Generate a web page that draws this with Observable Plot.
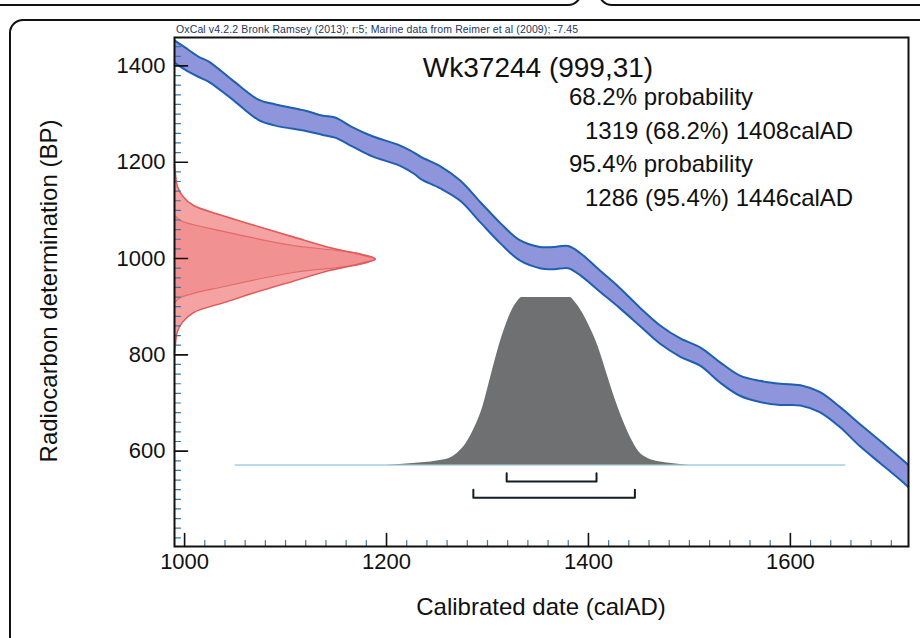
<!DOCTYPE html>
<html><head><meta charset="utf-8">
<script src="https://cdn.jsdelivr.net/npm/d3@7"></script>
<script src="https://cdn.jsdelivr.net/npm/@observablehq/plot@0.6"></script>
<style>
body{margin:0;background:#fff;}
#wrap{position:relative;width:920px;height:638px;overflow:hidden;font-family:"Liberation Sans",Arial,Helvetica,sans-serif;background:#fff;}
.panel{position:absolute;border:2px solid #111;border-radius:14px;box-sizing:border-box;}
#chart{position:absolute;left:0;top:0;z-index:2;}
</style></head><body>
<div id="wrap">
<div class="panel" style="left:-30px;top:-40px;width:612px;height:46px"></div>
<div class="panel" style="left:598px;top:-40px;width:400px;height:46px"></div>
<div class="panel" style="left:9px;top:19px;width:960px;height:700px"></div>
<div id="chart"></div>
</div>
<script>
// ---- text ----
const headerText = "OxCal v4.2.2 Bronk Ramsey (2013); r:5; Marine data from Reimer et al (2009); -7.45";
const sampleName = "Wk37244";
const c14Age = 999;
const c14Err = 31;
const xTitle = "Calibrated date (calAD)";
const yTitle = "Radiocarbon determination (BP)";

// ---- calibration curve (Marine09), calAD vs BP ----
const curveYear = [990,1000,1014,1024,1047,1073,1090,1120,1136,1149,1166,1186,1213,1228,1234,1253,1273,1293,1313,1332,1352,1366,1380,1392,1412,1431,1451,1471,1491,1511,1530,1550,1570,1590,1610,1629,1649,1669,1689,1709,1717];
const curveBP   = [1430,1416,1398,1388,1351,1309,1298,1286,1277,1272,1253,1233,1214,1197,1188,1169,1141,1096,1052,1017,1002,1001,1003,988,952,918,879,842,815,796,764,736,724,718,716,702,671,633,598,563,548];
const curveErr  = [23,23,21,21,20,21,22,21,20,21,20,21,21,22,23,23,21,21,21,21,22,23,23,23,22,21,19,19,19,19,21,21,22,22,21,21,21,23,23,23,23];

// ---- radiocarbon measurement distribution (BP, relative density) ----
const c14BP   = [1195,1170,1150,1130,1110,1088,1066,1045,1024,1008,999,990,974,953,932,909,888,868,848,828,805];
const c14Dens = [0,0.006,0.014,0.04,0.095,0.25,0.42,0.59,0.76,0.93,1,0.93,0.76,0.59,0.42,0.25,0.095,0.04,0.014,0.006,0];
const c14InnerBP   = [1090,1079,1055,1027,1010,999,988,971,943,919,908];
const c14InnerDens = [0,0.03,0.26,0.59,0.925,1,0.925,0.59,0.26,0.03,0];

// ---- calibrated distribution (calAD, relative probability) ----
const calYear = [1200,1226,1250,1262,1270,1279,1287,1295,1303,1311,1318,1324,1329,1334,1358,1382,1387,1393,1400,1410,1418,1426,1434,1442,1450,1459,1470,1482,1500];
const calProb = [0,0.01,0.025,0.04,0.07,0.13,0.22,0.34,0.52,0.70,0.83,0.92,0.97,1,1,1,0.97,0.92,0.84,0.70,0.55,0.40,0.27,0.16,0.08,0.04,0.02,0.01,0];
const calSpan = [1050, 1655];

// ---- HPD ranges ----
const hpdLevel = ["68.2%", "95.4%"];
const hpdFrom  = [1319, 1286];
const hpdTo    = [1408, 1446];

// ---- ticks ----
const xTicks = [1000, 1200, 1400, 1600];
const yTicks = [600, 800, 1000, 1200, 1400];
const xMinor = d3.range(1000, 1720, 20).filter(v => !xTicks.includes(v));
const yMinor = d3.range(420, 1460, 20).filter(v => !yTicks.includes(v));

// ---- layout constants ----
const xDomain = [990, 1717];
const yDomain = [402, 1459];
const c14Width = 199;     // years of x for full density
const calBase = 571;      // BP of baseline of calibrated distribution
const calHeight = 348;    // BP height for full probability
const bracketY0 = 537, bracketStep = 34, bracketTick = 17;

const curve = curveYear.map((x, i) => ({x, y: curveBP[i], lo: curveBP[i] - curveErr[i], hi: curveBP[i] + curveErr[i]}));
const c14 = c14BP.map((y, i) => ({y, x: xDomain[0] + c14Dens[i] * c14Width}));
const c14In = c14InnerBP.map((y, i) => ({y, x: xDomain[0] + c14InnerDens[i] * c14Width}));
const cal = calYear.map((x, i) => ({x, y: calBase + calProb[i] * calHeight}));
const brackets = hpdLevel.flatMap((lev, i) => {
  const b = bracketY0 - i * bracketStep;
  return [
    {lev, x: hpdFrom[i], y: b + bracketTick},
    {lev, x: hpdFrom[i], y: b},
    {lev, x: hpdTo[i], y: b},
    {lev, x: hpdTo[i], y: b + bracketTick}
  ];
});

const font = "Liberation Sans, Arial, Helvetica, sans-serif";
const tickShape = {draw(context, l) { context.moveTo(0, 0); context.lineTo(0, -l); }};
const fmt = d3.format("d");

const plot = Plot.plot({
  width: 920, height: 638,
  marginLeft: 174, marginRight: 12, marginTop: 37, marginBottom: 92,
  style: {background: "transparent", fontFamily: font, fontSize: "22px", color: "#111"},
  x: {domain: xDomain},
  y: {domain: yDomain},
  marks: [
    // radiocarbon measurement
    Plot.areaX(c14, {y: "y", x1: xDomain[0], x2: "x", fill: "#f4a2a2", curve: "catmull-rom"}),
    Plot.areaX(c14In, {y: "y", x1: xDomain[0], x2: "x", fill: "#ee8585", fillOpacity: 0.6, curve: "catmull-rom"}),
    Plot.line(c14In, {x: "x", y: "y", stroke: "#e46a6a", strokeWidth: 1.2, curve: "catmull-rom"}),
    Plot.line(c14, {x: "x", y: "y", stroke: "#e85858", strokeWidth: 1.6, curve: "catmull-rom"}),
    // calibrated distribution
    Plot.ruleY([calBase], {x1: calSpan[0], x2: calSpan[1], stroke: "#a3cfe2", strokeWidth: 1.5}),
    Plot.areaY(cal, {x: "x", y1: calBase, y2: "y", fill: "#6f7072", curve: "monotone-x"}),
    // calibration curve band
    Plot.areaY(curve, {x: "x", y1: "lo", y2: "hi", fill: "#8e95da", curve: "catmull-rom", clip: true}),
    Plot.line(curve, {x: "x", y: "hi", stroke: "#1e5fb2", strokeWidth: 2, curve: "catmull-rom", clip: true}),
    Plot.line(curve, {x: "x", y: "lo", stroke: "#1e5fb2", strokeWidth: 2, curve: "catmull-rom", clip: true}),
    // HPD brackets
    Plot.line(brackets, {x: "x", y: "y", z: "lev", stroke: "#141c24", strokeWidth: 2}),
    // axes: labels
    Plot.axisY(yTicks, {anchor: "left", tickSize: 0, tickPadding: 9, fontSize: 22, label: null, tickFormat: fmt}),
    Plot.axisX(xTicks, {anchor: "bottom", tickSize: 0, tickPadding: 7, fontSize: 22, label: null, tickFormat: fmt}),
    // axes: inward ticks
    Plot.vector(yMinor, {y: d => d, frameAnchor: "left", length: 6, rotate: 90, anchor: "start", shape: tickShape, stroke: "#3a78a8", strokeWidth: 1.2}),
    Plot.vector(yTicks, {y: d => d, frameAnchor: "left", length: 13, rotate: 90, anchor: "start", shape: tickShape, stroke: "#111", strokeWidth: 1.6}),
    Plot.vector(xMinor, {x: d => d, frameAnchor: "bottom", length: 6, rotate: 0, anchor: "start", shape: tickShape, stroke: "#3a78a8", strokeWidth: 1.2}),
    Plot.vector(xTicks, {x: d => d, frameAnchor: "bottom", length: 13, rotate: 0, anchor: "start", shape: tickShape, stroke: "#111", strokeWidth: 1.6}),
    Plot.frame({stroke: "#111", strokeWidth: 2})
  ]
});

const svg = d3.select(plot);
const addText = (x, y, t, o = {}) => svg.append("text")
  .attr("x", x).attr("y", y).text(t)
  .attr("font-family", font)
  .attr("font-size", o.size || 24)
  .attr("fill", o.fill || "#111")
  .attr("text-anchor", o.anchor || "start")
  .attr("transform", o.rotate ? `rotate(-90 ${x} ${y})` : null)
  .attr("textLength", o.len || null);

addText(176, 33, headerText, {size: 10.5, fill: "#23365e", len: 402});
addText(538, 77, `${sampleName} (${c14Age},${c14Err})`, {size: 28, anchor: "middle"});
addText(569, 105, `${hpdLevel[0]} probability`);
addText(585, 139, `${hpdFrom[0]} (${hpdLevel[0]}) ${hpdTo[0]}calAD`);
addText(569, 172, `${hpdLevel[1]} probability`);
addText(585, 206, `${hpdFrom[1]} (${hpdLevel[1]}) ${hpdTo[1]}calAD`);
addText(541, 615, xTitle, {anchor: "middle"});
addText(57, 291, yTitle, {anchor: "middle", rotate: true});

document.getElementById("chart").appendChild(plot);
</script>
</body></html>
